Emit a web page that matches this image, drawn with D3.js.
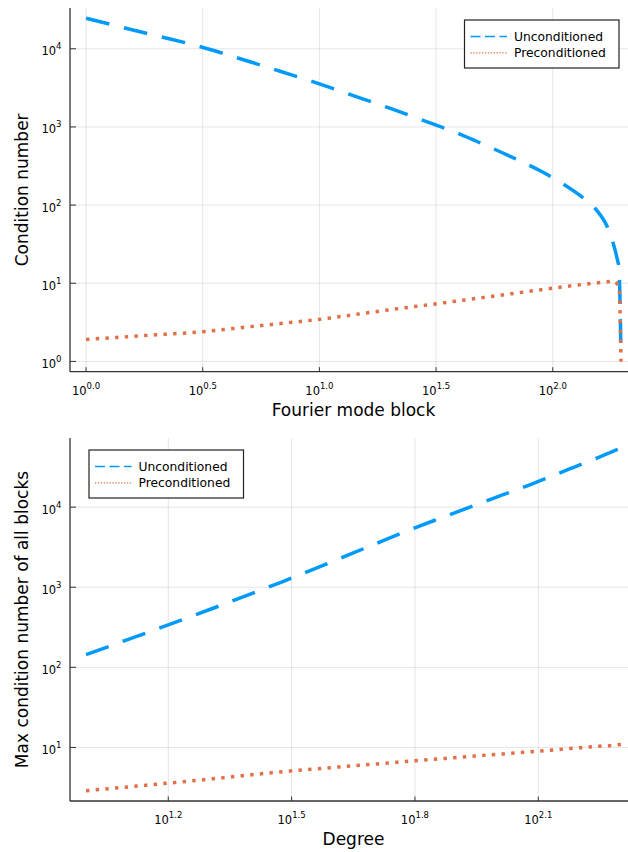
<!DOCTYPE html>
<html>
<head>
<meta charset="utf-8">
<script src="https://cdn.jsdelivr.net/npm/d3@7"></script>
<style>
  body { margin: 0; background: #fff; }
  svg { display: block; font-family: "DejaVu Sans", sans-serif; }
</style>
</head>
<body>
<div id="chart"></div>
<script>
// Top panel: condition number of each Fourier mode block
const modeBlocks = [1, 2, 3, 5, 7, 10, 15, 20, 30, 40, 50, 70, 90, 110, 130, 140, 150, 160, 165, 170, 175, 180, 185, 188, 190, 192, 193, 194, 195, 196];
const uncondByBlock = [24550, 14700, 10900, 6870, 5010, 3560, 2340, 1740, 1117, 811, 607, 385, 267, 189, 135, 114, 94.3, 74.6, 65.3, 55.3, 45.2, 35.3, 26.5, 21.8, 19.0, 16.2, 12, 7, 3, 1.2];
const precondByBlock = [1.91, 2.19, 2.37, 2.77, 3.08, 3.45, 4.07, 4.58, 5.35, 5.99, 6.55, 7.5, 8.29, 8.98, 9.53, 9.78, 10.0, 10.2, 10.3, 10.4, 10.5, 10.65, 10.5, 10.0, 9.5, 9.0, 8, 5, 2.5, 1];
const blockTickExps = [0, 0.5, 1.0, 1.5, 2.0];
const blockYTickExps = [0, 1, 2, 3, 4];

// Bottom panel: max condition number over all blocks, per degree
const degrees = [10, 20, 30, 40, 50, 60, 70, 80, 90, 100, 110, 120, 130, 140, 150, 160, 170, 180, 190, 200];
const uncondByDegree = [144, 527, 1170, 2120, 3400, 4980, 6760, 8730, 10940, 13400, 16100, 19000, 22300, 26000, 30000, 34300, 38800, 43600, 49000, 54300];
const precondByDegree = [2.88, 4.02, 4.97, 5.63, 6.18, 6.67, 7.1, 7.49, 7.86, 8.2, 8.51, 8.83, 9.12, 9.4, 9.67, 9.93, 10.2, 10.4, 10.6, 10.9];
const degreeTickExps = [1.2, 1.5, 1.8, 2.1];
const degreeYTickExps = [1, 2, 3, 4];

const seriesNames = ["Unconditioned", "Preconditioned"];
const seriesColors = ["#009AFA", "#E36F47"];

// Sizes
const width = 628;
const height = 852;
const plotLeft = 70;
const plotRight = 637;
const lineStyles = [
  { dash: "24,15", width: 3.5, legendDash: "10,4.5", legendWidth: 1.6 },
  { dash: "3.4,6.3", width: 3.5, legendDash: "1.3,1.6", legendWidth: 1.3 }
];

let svg = d3.select("#chart")
  .append("svg")
  .attr("width", width)
  .attr("height", height);

// Log extent widened by 3% on each side, like Plots.jl does
function logPad(values) {
  let lo = Math.log10(d3.min(values));
  let hi = Math.log10(d3.max(values));
  let pad = 0.03 * (hi - lo);
  return [Math.pow(10, lo - pad), Math.pow(10, hi + pad)];
}

function powerLabel(sel, fmt) {
  sel.text("10")
    .append("tspan")
    .attr("dy", -6)
    .attr("font-size", 8.5)
    .text(d => fmt(d));
}

function drawPanel(p) {
  let g = svg.append("g");

  let xScale = d3.scaleLog()
    .domain(logPad(p.xs))
    .range([plotLeft, plotRight]);
  let yScale = d3.scaleLog()
    .domain(logPad(p.series[0].concat(p.series[1])))
    .range([p.bottom, p.top]);

  // Grid
  g.selectAll("line.vgrid")
    .data(p.xTicks)
    .enter()
    .append("line")
    .attr("class", "vgrid")
    .attr("x1", d => xScale(Math.pow(10, d)))
    .attr("x2", d => xScale(Math.pow(10, d)))
    .attr("y1", p.top)
    .attr("y2", p.bottom)
    .attr("stroke", "#000")
    .attr("stroke-opacity", 0.1);
  g.selectAll("line.hgrid")
    .data(p.yTicks)
    .enter()
    .append("line")
    .attr("class", "hgrid")
    .attr("x1", plotLeft)
    .attr("x2", plotRight)
    .attr("y1", d => yScale(Math.pow(10, d)))
    .attr("y2", d => yScale(Math.pow(10, d)))
    .attr("stroke", "#000")
    .attr("stroke-opacity", 0.1);

  // Axis lines and inward ticks
  g.append("line")
    .attr("x1", plotLeft).attr("x2", plotLeft)
    .attr("y1", p.top).attr("y2", p.bottom)
    .attr("stroke", "#333").attr("stroke-width", 1.3);
  g.append("line")
    .attr("x1", plotLeft).attr("x2", plotRight)
    .attr("y1", p.bottom).attr("y2", p.bottom)
    .attr("stroke", "#333").attr("stroke-width", 1.3);
  g.selectAll("line.xtick")
    .data(p.xTicks)
    .enter()
    .append("line")
    .attr("class", "xtick")
    .attr("x1", d => xScale(Math.pow(10, d)))
    .attr("x2", d => xScale(Math.pow(10, d)))
    .attr("y1", p.bottom)
    .attr("y2", p.bottom - 4.5)
    .attr("stroke", "#333");
  g.selectAll("line.ytick")
    .data(p.yTicks)
    .enter()
    .append("line")
    .attr("class", "ytick")
    .attr("x1", plotLeft)
    .attr("x2", plotLeft + 6)
    .attr("y1", d => yScale(Math.pow(10, d)))
    .attr("y2", d => yScale(Math.pow(10, d)))
    .attr("stroke", "#333");

  // Tick labels
  g.selectAll("text.xlab")
    .data(p.xTicks)
    .enter()
    .append("text")
    .attr("class", "xlab")
    .attr("x", d => xScale(Math.pow(10, d)))
    .attr("y", p.bottom + 23.3)
    .attr("text-anchor", "middle")
    .attr("font-size", 11.5)
    .call(powerLabel, d3.format(".1f"));
  g.selectAll("text.ylab")
    .data(p.yTicks)
    .enter()
    .append("text")
    .attr("class", "ylab")
    .attr("x", plotLeft - 8.5)
    .attr("y", d => yScale(Math.pow(10, d)) + 6.5)
    .attr("text-anchor", "end")
    .attr("font-size", 11.5)
    .call(powerLabel, d3.format("d"));

  // Axis titles
  g.append("text")
    .attr("x", (plotLeft + plotRight) / 2)
    .attr("y", p.bottom + 44)
    .attr("text-anchor", "middle")
    .attr("font-size", 17)
    .text(p.xLabel);
  g.append("text")
    .attr("transform", "translate(28.3," + (p.top + p.bottom) / 2 + ") rotate(-90)")
    .attr("text-anchor", "middle")
    .attr("font-size", 17)
    .text(p.yLabel);

  // Series, clipped to the plot area
  g.append("clipPath")
    .attr("id", p.id + "-clip")
    .append("rect")
    .attr("x", plotLeft)
    .attr("y", p.top)
    .attr("width", plotRight - plotLeft)
    .attr("height", p.bottom - p.top);

  let line = d3.line()
    .x((d, i) => xScale(p.xs[i]))
    .y(d => yScale(d))
    .curve(d3.curveMonotoneX);

  g.append("g")
    .attr("clip-path", "url(#" + p.id + "-clip)")
    .selectAll("path")
    .data(p.series)
    .enter()
    .append("path")
    .attr("d", d => line(d))
    .attr("fill", "none")
    .attr("stroke", (d, i) => seriesColors[i])
    .attr("stroke-width", (d, i) => lineStyles[i].width)
    .attr("stroke-dasharray", (d, i) => lineStyles[i].dash);

  // Legend
  let legend = g.append("g")
    .attr("transform", "translate(" + p.legendX + "," + p.legendY + ")");
  legend.append("rect")
    .attr("width", 154.5)
    .attr("height", 48)
    .attr("fill", "#fff")
    .attr("stroke", "#222")
    .attr("stroke-width", 1.2);
  let item = legend.selectAll("g.item")
    .data(seriesNames)
    .enter()
    .append("g")
    .attr("class", "item")
    .attr("transform", (d, i) => "translate(0," + (16.5 + i * 16.3) + ")");
  item.append("line")
    .attr("x1", 6)
    .attr("x2", 42.5)
    .attr("stroke", (d, i) => seriesColors[i])
    .attr("stroke-width", (d, i) => lineStyles[i].legendWidth)
    .attr("stroke-dasharray", (d, i) => lineStyles[i].legendDash);
  item.append("text")
    .attr("x", 49.5)
    .attr("y", 4.3)
    .attr("font-size", 12.3)
    .text(d => d);
}

drawPanel({
  id: "blocks",
  top: 8,
  bottom: 371.7,
  xs: modeBlocks,
  series: [uncondByBlock, precondByBlock],
  xTicks: blockTickExps,
  yTicks: blockYTickExps,
  xLabel: "Fourier mode block",
  yLabel: "Condition number",
  legendX: 464.5,
  legendY: 20
});

drawPanel({
  id: "degree",
  top: 438,
  bottom: 801,
  xs: degrees,
  series: [uncondByDegree, precondByDegree],
  xTicks: degreeTickExps,
  yTicks: degreeYTickExps,
  xLabel: "Degree",
  yLabel: "Max condition number of all blocks",
  legendX: 89,
  legendY: 450
});
</script>
</body>
</html>
